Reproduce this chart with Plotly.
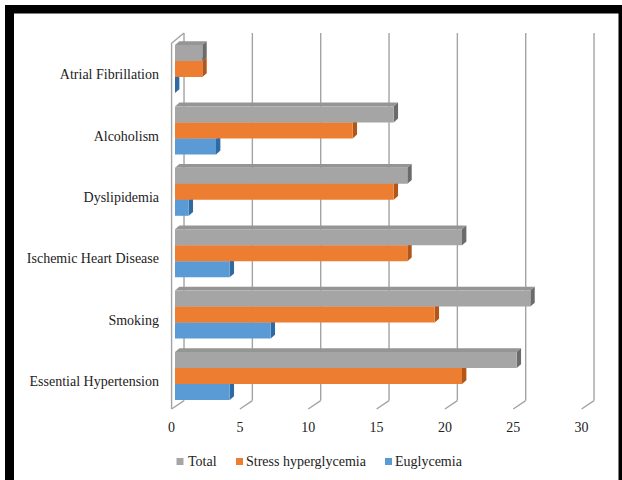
import plotly.graph_objects as go

# ---- data -------------------------------------------------------------
categories = ["Essential Hypertension", "Smoking", "Ischemic Heart Disease",
              "Dyslipidemia", "Alcoholism", "Atrial Fibrillation"]
euglycemia = [4, 7, 4, 1, 3, 0]
stress_hyperglycemia = [21, 19, 17, 16, 13, 2]
total = [25, 26, 21, 17, 16, 2]
x_ticks = [0, 5, 10, 15, 20, 25, 30]

# series drawn bottom -> top inside each category group
series = [
    ("Euglycemia", euglycemia),
    ("Stress hyperglycemia", stress_hyperglycemia),
    ("Total", total),
]
legend_order = ["Total", "Stress hyperglycemia", "Euglycemia"]

# ---- styles (front, top, side face colours) ---------------------------
COLORS = {
    "Total": ("#a5a5a5", "#959595", "#6b6b6b"),
    "Stress hyperglycemia": ("#ed7d31", "#d96c22", "#b2561a"),
    "Euglycemia": ("#5b9bd5", "#4a88c2", "#2f6aa3"),
}
GRID_COLOR = "#a3a3a3"
TEXT_COLOR = "#222222"
FONT = "Liberation Serif"

# ---- page geometry ----------------------------------------------------
W, H = 622, 480
ML, MR, MT, MB = 164, 23, 31, 66
PLOT_W = W - ML - MR
PLOT_H = H - MT - MB
X_ZERO_PX, PX_PER_X = 175.0, 13.667
Y_ZERO_PX, PX_PER_Y = 376.0, 61.4
x_range = [(ML - X_ZERO_PX) / PX_PER_X, (ML + PLOT_W - X_ZERO_PX) / PX_PER_X]
y_range = [(Y_ZERO_PX - (MT + PLOT_H)) / PX_PER_Y, (Y_ZERO_PX - MT) / PX_PER_Y]

# pseudo-3D depth offsets (axis units)
BAR_W = 0.2606
BAR_DX, BAR_DY = 0.32, 0.062          # bar depth
FRONT_DX, BACK_DX = -0.25, 0.66       # front / back planes relative to bars
FLOOR_FRONT_Y, FLOOR_BACK_Y = -0.537, -0.40
WALL_TOP_FRONT, WALL_TOP_BACK = 5.42, 5.586
LABEL_DROP = 0.085


def paper_x(px):
    return (px - ML) / PLOT_W


def paper_y(py):
    return 1 - (py - MT) / PLOT_H


fig = go.Figure()
shapes = []

# back-wall gridlines and floor edge ticks
for t in x_ticks:
    shapes.append(dict(type="line", xref="x", yref="y", layer="below",
                       x0=t + BACK_DX, x1=t + BACK_DX,
                       y0=FLOOR_BACK_Y, y1=WALL_TOP_BACK,
                       line=dict(color=GRID_COLOR, width=1.4)))
    shapes.append(dict(type="line", xref="x", yref="y", layer="below",
                       x0=t + FRONT_DX, x1=t + BACK_DX,
                       y0=FLOOR_FRONT_Y, y1=FLOOR_BACK_Y,
                       line=dict(color=GRID_COLOR, width=1.4)))

# side wall outline at x = 0
x0w = x_ticks[0]
shapes.append(dict(type="path", xref="x", yref="y", layer="below",
                   path=(f"M{x0w + FRONT_DX},{FLOOR_FRONT_Y} "
                         f"L{x0w + FRONT_DX},{WALL_TOP_FRONT} "
                         f"L{x0w + BACK_DX},{WALL_TOP_BACK}"),
                   line=dict(color=GRID_COLOR, width=1.4)))

# bars (front faces) plus top and side faces for the depth effect
for k, (name, values) in enumerate(series):
    front, top_c, side_c = COLORS[name]
    offset = -1.5 * BAR_W + k * BAR_W
    fig.add_trace(go.Bar(
        y=list(range(len(categories))), x=values, orientation="h",
        name=name, width=BAR_W, offset=offset,
        marker=dict(color=front, line=dict(width=0)),
        showlegend=False, hoverinfo="skip",
    ))
    for i, v in enumerate(values):
        yb = i + offset
        yt = yb + BAR_W
        shapes.append(dict(type="path", xref="x", yref="y", layer="below",
                           path=(f"M0,{yt} L{v},{yt} L{v + BAR_DX},{yt + BAR_DY} "
                                 f"L{BAR_DX},{yt + BAR_DY} Z"),
                           fillcolor=top_c, line=dict(width=0)))
        shapes.append(dict(type="path", xref="x", yref="y", layer="below",
                           path=(f"M{v},{yb} L{v + BAR_DX},{yb + BAR_DY} "
                                 f"L{v + BAR_DX},{yt + BAR_DY} L{v},{yt} Z"),
                           fillcolor=side_c, line=dict(width=0)))

# legend row
annotations = []
legend_y = 461.5
legend_items = {"Total": (180.0, 186.0),
                "Stress hyperglycemia": (239.5, 244.0),
                "Euglycemia": (388.5, 392.5)}
for name in legend_order:
    cx, tx = legend_items[name]
    shapes.append(dict(type="rect", xref="paper", yref="paper", layer="above",
                       x0=paper_x(cx - 3.5), x1=paper_x(cx + 3.5),
                       y0=paper_y(legend_y + 3.5), y1=paper_y(legend_y - 3.5),
                       fillcolor=COLORS[name][0], line=dict(width=0)))
    annotations.append(dict(xref="paper", yref="paper", x=paper_x(tx),
                            y=paper_y(legend_y), xanchor="left", yanchor="middle",
                            text=name, showarrow=False,
                            font=dict(family=FONT, size=14, color=TEXT_COLOR)))

# black picture frame
for x0, x1, y0, y1 in [(5, W + 2, 5, 13.5), (5, 14, 5, H + 2), (618.5, W + 2, 5, H + 2)]:
    shapes.append(dict(type="rect", xref="paper", yref="paper", layer="above",
                       x0=paper_x(x0), x1=paper_x(x1),
                       y0=paper_y(y1), y1=paper_y(y0),
                       fillcolor="#000000", line=dict(width=0)))

fig.update_layout(
    width=W, height=H,
    margin=dict(l=ML, r=MR, t=MT, b=MB, pad=0),
    paper_bgcolor="white", plot_bgcolor="white",
    barmode="overlay",
    showlegend=False, hovermode=False,
    font=dict(family=FONT, size=14, color=TEXT_COLOR),
    shapes=shapes, annotations=annotations,
    xaxis=dict(range=x_range, showgrid=False, zeroline=False, showline=False,
               tickmode="array",
               tickvals=[t + FRONT_DX for t in x_ticks],
               ticktext=[str(t) for t in x_ticks],
               ticks="", ticklabelstandoff=3,
               tickfont=dict(family=FONT, size=14, color=TEXT_COLOR),
               fixedrange=True),
    yaxis=dict(range=y_range, showgrid=False, zeroline=False, showline=False,
               tickmode="array",
               tickvals=[i - LABEL_DROP for i in range(len(categories))],
               ticktext=categories,
               ticks="", ticklabelstandoff=4,
               tickfont=dict(family=FONT, size=14, color=TEXT_COLOR),
               fixedrange=True),
)

fig.write_html("out.html")
